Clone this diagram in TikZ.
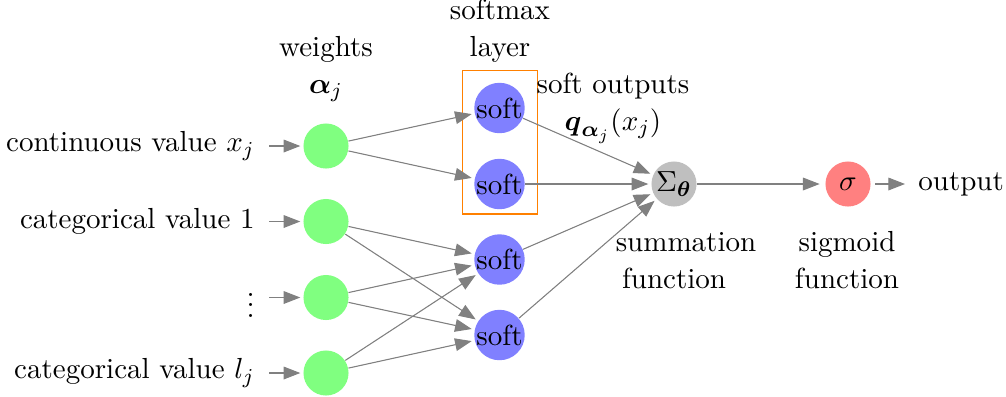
\documentclass[tikz,border=0pt]{standalone}
\usepackage{amsmath}
\usetikzlibrary{arrows.meta}
\begin{document}
\begin{tikzpicture}[x=0.37736pt,y=-0.37736pt,
  every node/.style={font=\fontsize{10.95}{13.6}\selectfont},
  neuron/.style={circle,minimum size=17pt,inner sep=0pt},
  inneuron/.style={neuron,fill=green!50},
  softneuron/.style={neuron,fill=blue!50},
  sumneuron/.style={neuron,fill=black!25},
  signeuron/.style={neuron,fill=red!50},
  conn/.style={draw=gray,-{Triangle[length=6.3pt,width=4.8pt]},fill=gray,shorten >=1pt},
  lbl/.style={align=center,anchor=base}
]
\useasboundingbox (0,0) rectangle (1006,396);
% input neurons
\node[inneuron] (g1) at (326,146) {};
\node[inneuron] (g2) at (326,221.5) {};
\node[inneuron] (g3) at (326,297.5) {};
\node[inneuron] (g4) at (326,373) {};
% input labels
\node[anchor=east] (l1) at (264,146) {continuous value $x_j$};
\node[anchor=east] (l2) at (264,221.5) {categorical value 1};
\node[anchor=east] (l3) at (264,297.5) {$\vdots$};
\node[anchor=east] (l4) at (264,373) {categorical value $l_j$};
% soft neurons
\node[softneuron] (b1) at (499.5,108) {soft};
\node[softneuron] (b2) at (499.5,184) {soft};
\node[softneuron] (b3) at (499.5,259.5) {soft};
\node[softneuron] (b4) at (499.5,335) {soft};
% sum and sigmoid
\node[sumneuron] (s) at (674,184) {$\Sigma_{\boldsymbol{\theta}}$};
\node[signeuron] (sg) at (848,184) {$\sigma$};
\node[anchor=west] (out) at (909,184) {output};
% box
\draw[orange] (462.3,70.3) rectangle (537.7,214);
% text labels
\node[lbl] (tw) at (326,93) {weights\\$\boldsymbol{\alpha}_j$};
\node[lbl] (ts) at (500,56) {softmax\\layer};
\node[lbl] (to) at (613,130) {soft outputs\\$\boldsymbol{q}_{\boldsymbol{\alpha}_j}(x_j)$};
\node[lbl] (tsum) at (686,288) {summation\\function\hspace*{9pt}};
\node[lbl] (tsig) at (847,288) {sigmoid\\function};
% connectors
\foreach \i in {1,2,3,4} \draw[conn,shorten <=2pt] (l\i.east) -- (g\i);
\draw[conn] (g1) -- (b1);
\draw[conn] (g1) -- (b2);
\foreach \i in {2,3,4} {\draw[conn] (g\i) -- (b3); \draw[conn] (g\i) -- (b4);}
\foreach \i in {1,2,3,4} \draw[conn] (b\i) -- (s);
\draw[conn,shorten >=2pt] (s) -- (sg);
\draw[conn,shorten <=1.5pt,shorten >=1.5pt] (sg) -- (out);
\end{tikzpicture}
\end{document}
